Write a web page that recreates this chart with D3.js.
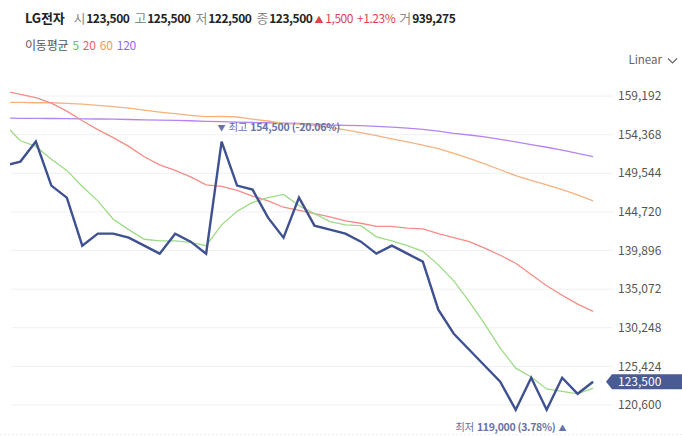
<!DOCTYPE html>
<html><head><meta charset="utf-8">
<script src="https://cdn.jsdelivr.net/npm/d3@7/dist/d3.min.js"></script>
<style>
body{margin:0;background:#fff;}
svg{display:block;font-family:"Noto Sans CJK KR","Noto Sans",sans-serif;}
</style></head>
<body><svg id="c" width="682" height="436"></svg>
<script>
const closes = [150500,151000,153500,148000,146500,140500,142000,142000,141500,140500,
  139500,142000,141000,139500,153500,148000,147500,144000,141500,146500,
  143000,142500,142000,141000,139500,140500,139500,138500,132500,129500,
  127500,125500,123500,120000,124000,120000,124000,122000,123500];
const ma5 = [155600,153600,152900,151300,149900,147900,146100,143800,142500,141300,
  141100,141100,140900,140500,143100,144800,145900,146500,146900,145500,
  144500,143500,143100,143000,141600,141100,140500,139800,138100,136100,
  133500,130700,127700,125200,124100,122600,122300,122000,122700];
const ma20 = [159800,159400,159000,158300,157300,156100,155000,154000,152900,151600,
  150600,149900,149100,148100,147900,147400,146700,146100,145300,144900,
  144500,144100,143600,143300,142900,142900,142700,142600,142000,141500,
  141000,140200,139300,138300,136900,135500,134300,133200,132300];
const ma60 = [158400,158400,158350,158350,158280,158170,158030,157870,157670,157440,
  157190,156980,156780,156620,156640,156570,156300,156070,155760,155670,
  155510,155260,154950,154630,154230,153850,153470,153070,152610,152040,
  151410,150720,149980,149250,148640,148080,147490,146830,146100];
const ma120 = [156420,156410,156390,156380,156360,156340,156320,156300,156260,156220,
  156190,156150,156100,156030,155980,155930,155880,155850,155810,155770,
  155670,155570,155530,155480,155400,155300,155170,155030,154800,154530,
  154320,154080,153780,153460,153120,152790,152420,152020,151610];
const yTicks = [159192,154368,149544,144720,139896,135072,130248,125424,120600];
const highIdx = 14, highVal = 154500, highText = "154,500 (-20.06%)";
const lowIdx = 36, lowVal = 119000, lowText = "119,000 (3.78%)";
const lastPrice = 123500;

const svg = d3.select("#c");
const x = d3.scaleLinear().domain([0, closes.length - 1]).range([4.9, 593.1]);
const y = d3.scaleLinear().domain([120600, 159192]).range([405, 96]);
const fmt = d3.format(",");

// header: one text, tspans laid out in sequence
const items = [
  {t:"LG전자", c:"#222", fw:700, s:13, g:9},
  {t:"시", c:"#888", fw:400, s:13, g:1},{t:"123,500", c:"#222", fw:600, s:12, g:5},
  {t:"고", c:"#888", fw:400, s:13, g:1},{t:"125,500", c:"#222", fw:600, s:12, g:5},
  {t:"저", c:"#888", fw:400, s:13, g:1},{t:"122,500", c:"#222", fw:600, s:12, g:5},
  {t:"종", c:"#888", fw:400, s:13, g:1},{t:"123,500", c:"#222", fw:600, s:12, g:2},
  {t:"▲", c:"#e0454b", fw:400, s:9, g:2},{t:"1,500", c:"#e0454b", fw:400, s:12, g:4},
  {t:"+1.23%", c:"#e0454b", fw:400, s:12, g:4},
  {t:"거", c:"#888", fw:400, s:13, g:1},{t:"939,275", c:"#222", fw:600, s:12, g:0}
];
const hdr = svg.append("text").attr("x", 25).attr("y", 23);
items.forEach((d, i) => hdr.append("tspan").attr("dx", i === 0 ? 0 : items[i-1].g)
  .attr("font-size", d.s).attr("font-weight", d.fw).attr("fill", d.c)
  .attr("letter-spacing", d.s === 12 ? -0.45 : -0.2).text(d.t));

const leg = [
  {t:"이동평균", c:"#555", g:4},{t:"5", c:"#6cbf4e", g:4},{t:"20", c:"#ef5a6a", g:4},
  {t:"60", c:"#f39a62", g:4},{t:"120", c:"#8b6cf0", g:0}
];
const lg = svg.append("text").attr("x", 25).attr("y", 50).attr("font-size", 12).attr("letter-spacing", -0.2);
leg.forEach((d, i) => lg.append("tspan").attr("dx", i === 0 ? 0 : leg[i-1].g).attr("fill", d.c).text(d.t));

// Linear dropdown
svg.append("text").attr("x", 662).attr("y", 64).attr("font-size", 11.5).attr("fill", "#666")
  .attr("text-anchor", "end").text("Linear");
svg.append("path").attr("d", "M668,58.5 L672.5,63 L677,58.5").attr("fill", "none").attr("stroke", "#666").attr("stroke-width", 1.2);

// grid + ticks
const grid = svg.append("g");
yTicks.forEach(v => {
  grid.append("line").attr("x1", 11).attr("x2", 613).attr("y1", y(v)).attr("y2", y(v))
    .attr("stroke", "#f0f0f4").attr("stroke-width", 1);
  grid.append("text").attr("x", 618).attr("y", y(v)).attr("dy", "0.35em").attr("font-size", 12)
    .attr("fill", "#555").text(fmt(v));
});
svg.append("line").attr("x1", 0).attr("x2", 682).attr("y1", 434.5).attr("y2", 434.5)
  .attr("stroke", "#eeeeee").attr("stroke-dasharray", "2,2");

// clip
svg.append("clipPath").attr("id", "clip").append("rect").attr("x", 10).attr("y", 75).attr("width", 596).attr("height", 350);
const plot = svg.append("g").attr("clip-path", "url(#clip)");
const line = d3.line().x((d, i) => x(i)).y(d => y(d));
const series = [
  {d: ma120, c: "#b684f2", w: 1.3},
  {d: ma60, c: "#f6b27f", w: 1.3},
  {d: ma20, c: "#f58c86", w: 1.3},
  {d: ma5, c: "#9ddb86", w: 1.3},
  {d: closes, c: "#3f5190", w: 2.4}
];
series.forEach(s => plot.append("path").attr("d", line(s.d)).attr("fill", "none")
  .attr("stroke", s.c).attr("stroke-width", s.w).attr("stroke-linejoin", "miter"));

// high / low labels
const hx = x(highIdx), hy = y(highVal) - 6;
const hl = svg.append("text").attr("x", hx - 4).attr("y", hy).attr("dy", "0.35em").attr("font-size", 10.5)
  .attr("fill", "#6772a8").attr("letter-spacing", -0.2);
hl.append("tspan").attr("font-size", 8).text("▼");
hl.append("tspan").attr("dx", 3).text("최고");
hl.append("tspan").attr("dx", 3).attr("font-weight", 700).text(highText);
const lx = x(lowIdx), ly = y(lowVal) + 10;
const ll = svg.append("text").attr("x", lx + 4).attr("y", ly).attr("dy", "0.35em").attr("font-size", 10.5)
  .attr("fill", "#6772a8").attr("text-anchor", "end").attr("letter-spacing", -0.3);
ll.append("tspan").text("최저");
ll.append("tspan").attr("dx", 3).attr("font-weight", 700).text(lowText);
ll.append("tspan").attr("dx", 3).attr("font-size", 8).text("▲");

// price tag
const py = y(lastPrice);
svg.append("path").attr("d", `M606,${py} L612,${py-7.5} L682,${py-7.5} L682,${py+7.5} L612,${py+7.5} Z`).attr("fill", "#4a5a93");
svg.append("text").attr("x", 618).attr("y", py).attr("dy", "0.36em").attr("font-size", 12).attr("fill", "#fff").text(fmt(lastPrice));
</script></body></html>
